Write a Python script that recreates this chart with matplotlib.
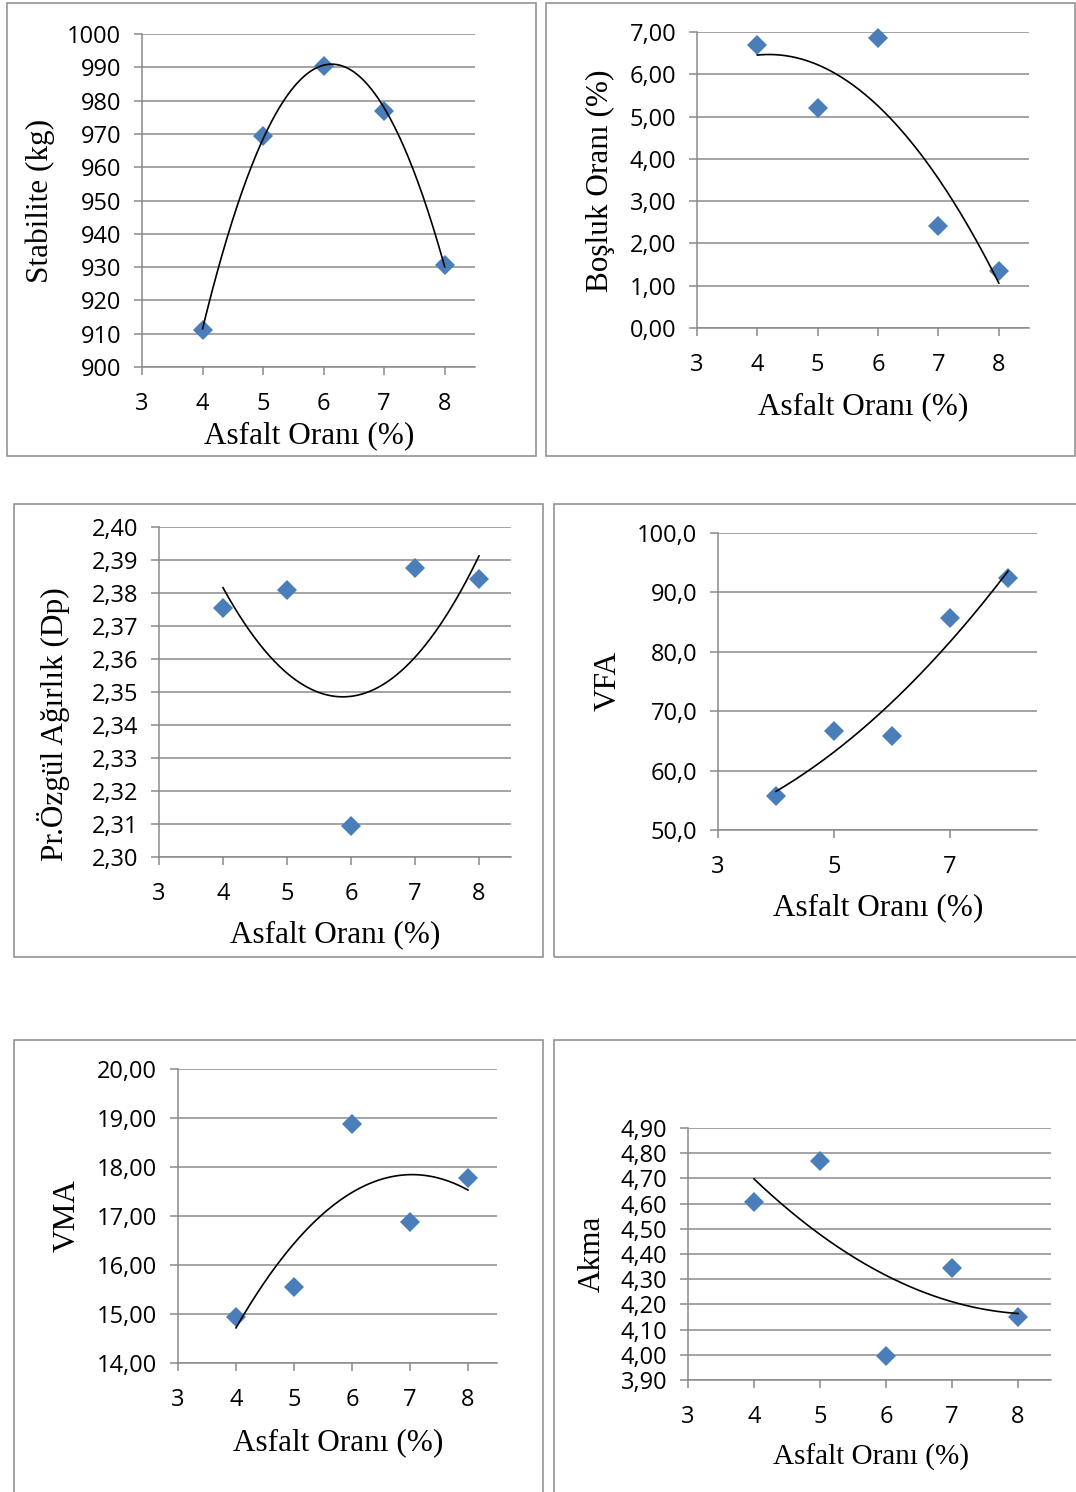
import numpy as np
import matplotlib
matplotlib.use("Agg")
import matplotlib.pyplot as plt
from matplotlib.patches import Rectangle
from matplotlib.ticker import FuncFormatter, MultipleLocator, FixedLocator

# ---------------- data ----------------
asfalt = [4, 5, 6, 7, 8]
stabilite = [911.0, 969.5, 990.5, 977.0, 930.5]
bosluk = [6.70, 5.20, 6.85, 2.42, 1.35]
ozgul = [2.3755, 2.3810, 2.3095, 2.3875, 2.3843]
vfa = [55.7, 66.6, 65.9, 85.7, 92.5]
vma = [14.93, 15.55, 18.87, 16.88, 17.78]
akma = [4.605, 4.770, 3.995, 4.345, 4.150]

xlabel_txt = "Asfalt Oranı (%)"
ylabels = ["Stabilite (kg)", "Boşluk Oranı (%)", "Pr.Özgül Ağırlık (Dp)",
           "VFA", "VMA", "Akma"]

W, H = 1076, 1492
fig = plt.figure(figsize=(W / 100, H / 100), dpi=100)
fig.patch.set_facecolor("white")

GRAY = "#8a8a8a"
BLUE = "#4a7ebb"
TICKFONT = "Open Sans"
SERIF = "Liberation Serif"


def fx(px):
    return px / W


def fy(py):
    return 1 - py / H


def frame(x0, y0, x1, y1):
    fig.add_artist(Rectangle((fx(x0), fy(y1)), fx(x1 - x0), (y1 - y0) / H,
                             transform=fig.transFigure, fill=False,
                             edgecolor=GRAY, linewidth=1.1, zorder=0))


def panel(box, ydata, ylim, ystep, fmt, xstep, ylab, ylab_pos, xlab_pos,
          xlab_size=22.5):
    left, top, right, bottom = box
    ax = fig.add_axes([fx(left), fy(bottom), fx(right - left), (bottom - top) / H])
    ax.set_xlim(3, 8.5)
    ax.set_ylim(*ylim)
    ax.xaxis.set_major_locator(FixedLocator(np.arange(3, 8.01, xstep)))
    ax.yaxis.set_major_locator(MultipleLocator(ystep))
    ax.yaxis.set_major_formatter(FuncFormatter(fmt))
    ax.xaxis.set_major_formatter(FuncFormatter(lambda v, p: f"{v:.0f}"))
    for s in ["top", "right"]:
        ax.spines[s].set_visible(False)
    for s in ["left", "bottom"]:
        ax.spines[s].set_color(GRAY)
        ax.spines[s].set_linewidth(1.1)
    ax.grid(axis="y", color=GRAY, linewidth=1.1)
    ax.set_axisbelow(True)
    ax.tick_params(axis="both", direction="out", length=6, width=1.1,
                   color=GRAY, labelsize=17, labelcolor="black")
    ax.tick_params(axis="x", pad=12)
    ax.tick_params(axis="y", pad=9)
    for lab in ax.get_xticklabels() + ax.get_yticklabels():
        lab.set_fontfamily(TICKFONT)
    ax.plot(asfalt, ydata, linestyle="none", marker="D", markersize=10,
            color=BLUE, markeredgewidth=0, zorder=3, clip_on=False)
    coef = np.polyfit(asfalt, ydata, 2)
    xs = np.linspace(min(asfalt), max(asfalt), 200)
    ax.plot(xs, np.polyval(coef, xs), color="black", linewidth=1.2, zorder=4,
            clip_on=False)
    fig.text(fx(ylab_pos[0]), fy(ylab_pos[1]), ylab, rotation=90,
             ha="center", va="center", fontsize=22.5, family=SERIF)
    fig.text(fx(xlab_pos[0]), fy(xlab_pos[1]), xlabel_txt,
             ha="center", va="center", fontsize=xlab_size, family=SERIF)
    return ax


def comma(dec):
    return lambda v, p: f"{v:.{dec}f}".replace(".", ",")


# frames
frame(7, 3, 536, 456)
frame(546, 3, 1075, 456)
frame(14, 504, 543, 957)
frame(554, 504, 1090, 957)
frame(14, 1040, 543, 1510)
frame(554, 1040, 1090, 1510)

panel((142, 34, 475, 367), stabilite, (900, 1000), 10, comma(0), 1,
      ylabels[0], (40, 201), (309, 436))
panel((697, 32, 1029, 328), bosluk, (0, 7), 1, comma(2), 1,
      ylabels[1], (600, 181), (863, 407))
panel((159, 527, 511, 857), ozgul, (2.30, 2.40), 0.01, comma(2), 1,
      ylabels[2], (54, 724), (335, 935))
panel((718, 533, 1037, 830), vfa, (50, 100), 10, comma(1), 2,
      ylabels[3], (608, 681), (878, 908))
panel((178, 1069, 497, 1363), vma, (14, 20), 1, comma(2), 1,
      ylabels[4], (67, 1216), (338, 1443))
panel((688, 1128, 1051, 1380), akma, (3.90, 4.90), 0.1, comma(2), 1,
      ylabels[5], (592, 1254), (871, 1457), xlab_size=21)

fig.savefig("out.png", dpi=100, facecolor="white")
